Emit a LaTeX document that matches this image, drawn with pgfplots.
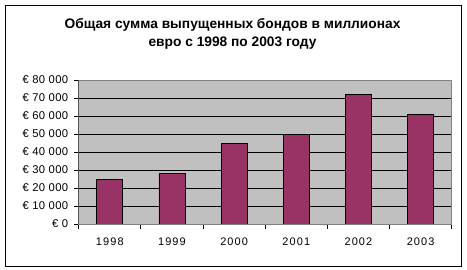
\documentclass[border=0pt]{standalone}
\usepackage{pgfplots}
\pgfplotsset{compat=1.18}
\usepackage{fontspec}
\setmainfont{Liberation Sans}
\definecolor{plum}{HTML}{993366}
\definecolor{bggray}{HTML}{C0C0C0}
\definecolor{bordergray}{HTML}{808080}
\begin{document}
\begin{tikzpicture}
\useasboundingbox (0,0) rectangle (467bp,270bp);
\draw[black, line width=0.9bp] (5.3bp,4bp) rectangle (461.5bp,265bp);
\node[anchor=base, font=\fontsize{13.8}{16}\selectfont\bfseries, inner sep=0pt] at (232.5bp,241.7bp) {Общая сумма выпущенных бондов в миллионах};
\node[anchor=base, font=\fontsize{13.8}{16}\selectfont\bfseries, inner sep=0pt] at (232.5bp,223.5bp) {евро с 1998 по 2003 году};
\begin{axis}[
  at={(78.7bp,46bp)}, anchor=south west,
  scale only axis, width=373bp, height=144bp,
  xmin=-0.5, xmax=5.5, ymin=0, ymax=80000,
  scaled y ticks=false,
  ybar, bar width=26bp,
  axis background/.style={fill=bggray},
  axis line style={draw=bordergray, line width=0.9bp},
  ymajorgrids, grid style={black, line width=0.8bp},
  ytick={0,10000,...,80000},
  yticklabels={€ 0,€ 10 000,€ 20 000,€ 30 000,€ 40 000,€ 50 000,€ 60 000,€ 70 000,€ 80 000},
  xtick={-0.5,0.5,...,5.5},
  x tick label as interval,
  xticklabels={1998,1999,2000,2001,2002,2003},
  tick align=outside, xtick pos=bottom, ytick pos=left,
  major tick length=5bp,
  tick style={black, line width=0.8bp},
  ticklabel style={font=\fontsize{11}{13}\selectfont},
  xticklabel style={font=\fontsize{11}{13}\selectfont\addfontfeatures{LetterSpace=10}, yshift=-5bp},
  yticklabel style={font=\fontsize{11.3}{13}\selectfont\addfontfeatures{LetterSpace=3}, xshift=-2bp},
]
\addplot[fill=plum, draw=black, line width=0.9bp] coordinates {(0,25000) (1,28000) (2,45000) (3,50000) (4,72000) (5,61000)};
\draw[black, line width=0.9bp] (rel axis cs:0,1) -- (rel axis cs:0,0) -- (rel axis cs:1,0);
\end{axis}
\end{tikzpicture}
\end{document}
